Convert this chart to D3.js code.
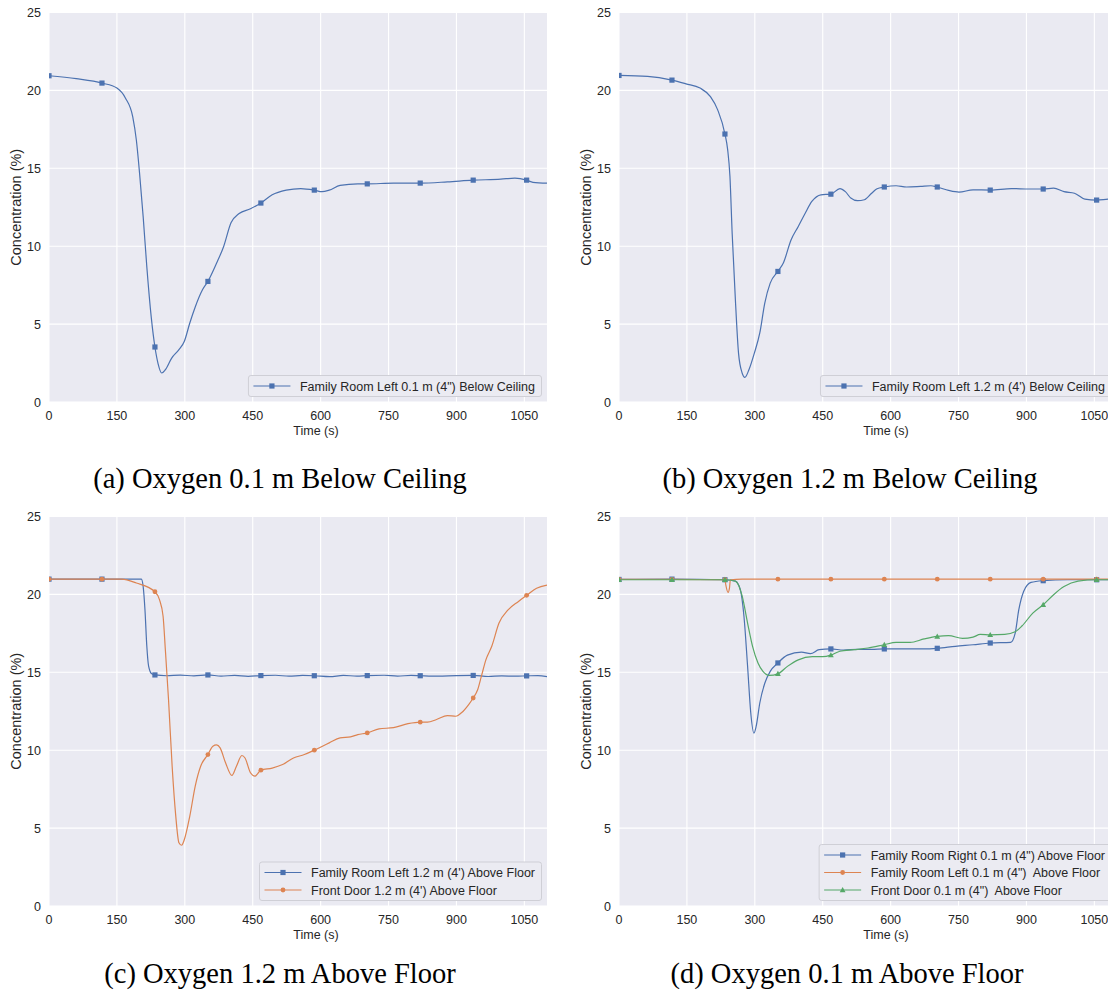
<!DOCTYPE html>
<html><head><meta charset="utf-8">
<script src="https://cdn.jsdelivr.net/npm/d3@7"></script>
<style>body{margin:0;background:#fff} svg{display:block} text{white-space:pre}</style>
</head><body><svg id="chart" width="1108" height="999"></svg>
<script>
// ---------- data ----------
const xTicks = [0,150,300,450,600,750,900,1050];
const yTicks = [0,5,10,15,20,25];
const markerTimes = [0,117,234,351,468,586,703,820,937,1055];

const captions = ["(a) Oxygen 0.1 m Below Ceiling","(b) Oxygen 1.2 m Below Ceiling","(c) Oxygen 1.2 m Above Floor","(d) Oxygen 0.1 m Above Floor"];

const labelsA = ["Family Room Left 0.1 m (4\") Below Ceiling"];
const labelsB = ["Family Room Left 1.2 m (4') Below Ceiling"];
const labelsC = ["Family Room Left 1.2 m (4') Above Floor","Front Door 1.2 m (4') Above Floor"];
const labelsD = ["Family Room Right 0.1 m (4\") Above Floor","Family Room Left 0.1 m (4\")  Above Floor","Front Door 0.1 m (4\")  Above Floor"];

const seriesA1 = [[0,20.94],[60,20.75],[117,20.47],[150,20.15],[169,19.5],[185,18.3],[193,16.8],[200,14.7],[208,11.9],[216,8.7],[226,5.4],[234,3.53],[241,2.45],[249,1.86],[257,2.07],[271,2.82],[287,3.36],[299,3.9],[311,5.07],[323,6.1],[339,7.2],[351,7.74],[370,8.9],[386,10.0],[402,11.5],[420,12.1],[445,12.4],[468,12.77],[493,13.3],[524,13.6],[556,13.7],[586,13.6],[603,13.5],[619,13.6],[643,13.9],[682,14.0],[703,14.0],[761,14.05],[820,14.05],[880,14.13],[937,14.24],[998,14.3],[1029,14.37],[1055,14.24],[1069,14.1],[1100,14.05]];

const seriesB1 = [[0,20.96],[63,20.9],[117,20.66],[148,20.42],[179,20.15],[202,19.6],[218,18.75],[234,17.2],[240,16.2],[245,14.5],[250,10.8],[257,6.6],[264,3.14],[272,1.86],[278,1.58],[287,2.07],[299,3.14],[311,4.43],[322,6.35],[334,7.63],[351,8.38],[363,8.92],[380,10.4],[396,11.27],[411,12.1],[426,12.87],[446,13.3],[468,13.34],[488,13.7],[500,13.5],[512,13.09],[527,12.92],[542,12.98],[558,13.4],[570,13.69],[586,13.8],[612,13.88],[635,13.8],[666,13.84],[689,13.88],[703,13.8],[728,13.58],[751,13.47],[782,13.62],[820,13.6],[867,13.7],[906,13.67],[937,13.67],[960,13.73],[983,13.5],[1006,13.4],[1029,13.02],[1055,12.96],[1082,13.02],[1100,13.03]];

const seriesC1 = [[0,20.98],[117,20.98],[204,20.98],[208,20.5],[212,19.0],[216,16.7],[220,15.4],[227,14.9],[234,14.83],[260,14.78],[290,14.82],[320,14.77],[351,14.83],[380,14.76],[410,14.8],[440,14.74],[468,14.79],[500,14.81],[530,14.75],[560,14.8],[586,14.78],[620,14.72],[650,14.8],[680,14.76],[703,14.79],[740,14.81],[770,14.76],[800,14.8],[820,14.78],[860,14.75],[900,14.79],[937,14.8],[970,14.73],[1000,14.77],[1030,14.75],[1055,14.77],[1080,14.79],[1100,14.72]];
const seriesC2 = [[0,20.98],[117,20.98],[161,20.98],[193,20.73],[234,20.17],[244,19.66],[252,18.6],[257,16.45],[264,13.25],[272,8.97],[280,5.77],[287,4.06],[293,3.9],[299,4.27],[311,5.77],[323,7.7],[335,8.97],[351,9.72],[362,10.26],[370,10.34],[378,10.15],[390,9.19],[404,8.38],[414,8.97],[426,9.66],[433,9.5],[445,8.55],[455,8.33],[461,8.5],[468,8.72],[493,8.85],[516,9.08],[540,9.5],[564,9.72],[586,10.0],[619,10.47],[643,10.79],[666,10.85],[682,11.0],[703,11.11],[729,11.37],[761,11.45],[793,11.7],[820,11.8],[836,11.8],[856,11.97],[880,12.22],[899,12.18],[911,12.4],[927,12.93],[937,13.35],[947,13.9],[955,14.74],[965,15.8],[978,16.67],[994,18.16],[1014,19.0],[1037,19.55],[1055,19.94],[1077,20.4],[1100,20.6]];

const seriesD1 = [[0,20.96],[117,20.98],[234,20.94],[257,20.85],[268,20.3],[276,18.6],[284,15.4],[291,12.4],[298,11.1],[303,11.54],[311,13.03],[322,14.3],[334,15.06],[351,15.6],[372,16.1],[403,16.3],[423,16.2],[442,16.45],[468,16.5],[496,16.43],[527,16.47],[558,16.47],[586,16.5],[628,16.5],[674,16.5],[703,16.54],[743,16.67],[782,16.77],[820,16.88],[865,16.92],[875,17.5],[883,19.0],[894,20.2],[910,20.77],[937,20.88],[991,20.94],[1055,20.94],[1100,20.94]];
const seriesD2 = [[0,20.96],[117,20.96],[234,20.94],[236,20.6],[241,20.13],[244,20.4],[246,20.94],[272,20.98],[351,20.98],[468,20.98],[586,20.98],[703,20.98],[820,20.98],[937,20.98],[1055,20.98],[1100,20.98]];
const seriesD3 = [[0,20.94],[117,20.94],[234,20.94],[257,20.85],[272,19.9],[284,18.16],[295,16.67],[307,15.6],[318,15.06],[332,14.8],[351,14.9],[372,15.38],[396,15.8],[427,16.0],[450,16.0],[468,16.1],[488,16.35],[519,16.45],[550,16.56],[586,16.77],[612,16.92],[643,16.92],[674,17.14],[703,17.3],[728,17.35],[759,17.18],[782,17.26],[798,17.43],[820,17.4],[852,17.43],[875,17.6],[890,17.97],[914,18.8],[937,19.34],[960,19.98],[983,20.5],[1014,20.85],[1055,20.94],[1100,20.94]];

// ---------- styles ----------
const colors = ["#4C72B0","#DD8452","#55A868"];
const shapes = ["square","circle","triangle"];

const panels = [
  {left:49,  top:12.5,  series:[seriesA1], labels:labelsA, cap:captions[0], capX:280, capY:488},
  {left:619, top:12.5,  series:[seriesB1], labels:labelsB, cap:captions[1], capX:850, capY:488},
  {left:49,  top:516.5, series:[seriesC1,seriesC2], labels:labelsC, cap:captions[2], capX:280, capY:983},
  {left:619, top:516.5, series:[seriesD1,seriesD2,seriesD3], labels:labelsD, cap:captions[3], capX:847, capY:983}
];
const PW = 498, PH = 389.5;

const svg = d3.select("#chart");
const FONT = "'Liberation Sans', Arial, sans-serif";

function interp(series, t){
  for (let i=1;i<series.length;i++){
    if (series[i][0] >= t){
      const [t0,v0]=series[i-1],[t1,v1]=series[i];
      return v0 + (v1-v0)*(t-t0)/(t1-t0);
    }
  }
  return series[series.length-1][1];
}

function drawMarker(g, shape, x, y, color){
  if (shape==="square") g.append("rect").attr("x",x-2.6).attr("y",y-2.6).attr("width",5.2).attr("height",5.2).attr("fill",color);
  else if (shape==="circle") g.append("circle").attr("cx",x).attr("cy",y).attr("r",2.4).attr("fill",color);
  else g.append("path").attr("d",`M${x},${y-3}L${x+2.9},${y+2.2}L${x-2.9},${y+2.2}Z`).attr("fill",color);
}

panels.forEach((p,pi)=>{
  const x = d3.scaleLinear().domain([0,1100]).range([0,PW]);
  const y = d3.scaleLinear().domain([0,25]).range([PH,0]);
  const g = svg.append("g").attr("transform",`translate(${p.left},${p.top})`);
  const clipId = "clip"+pi;
  g.append("clipPath").attr("id",clipId).append("rect").attr("width",PW).attr("height",PH);
  g.append("rect").attr("width",PW).attr("height",PH).attr("fill","#EAEAF2");
  // grid
  g.selectAll(".gx").data(xTicks).enter().append("line")
    .attr("x1",d=>x(d)).attr("x2",d=>x(d)).attr("y1",0).attr("y2",PH)
    .attr("stroke","#fff").attr("stroke-width",1.1);
  g.selectAll(".gy").data(yTicks).enter().append("line")
    .attr("x1",0).attr("x2",PW).attr("y1",d=>y(d)).attr("y2",d=>y(d))
    .attr("stroke","#fff").attr("stroke-width",1.1);
  // tick labels
  g.selectAll(".tx").data(xTicks).enter().append("text")
    .attr("x",d=>x(d)).attr("y",PH+18).attr("text-anchor","middle")
    .attr("font-family",FONT).attr("font-size",12.5).attr("fill","#262626").text(d=>d);
  g.selectAll(".ty").data(yTicks).enter().append("text")
    .attr("x",-8).attr("y",d=>y(d)+4.5).attr("text-anchor","end")
    .attr("font-family",FONT).attr("font-size",12.5).attr("fill","#262626").text(d=>d);
  g.append("text").attr("x",PW/2+18).attr("y",PH+33).attr("text-anchor","middle")
    .attr("font-family",FONT).attr("font-size",12.5).attr("fill","#262626").text("Time (s)");
  g.append("text").attr("transform",`translate(${-28},${PH/2}) rotate(-90)`).attr("text-anchor","middle")
    .attr("font-family",FONT).attr("font-size",14.5).attr("fill","#262626").text("Concentration (%)");
  // lines
  const plot = g.append("g").attr("clip-path",`url(#${clipId})`);
  const line = d3.line().x(d=>x(d[0])).y(d=>y(d[1])).curve(d3.curveMonotoneX);
  p.series.forEach((s,si)=>{
    plot.append("path").attr("d",line(s)).attr("fill","none").attr("stroke",colors[si]).attr("stroke-width",1.2);
    markerTimes.forEach(t=>{
      drawMarker(plot, shapes[si], x(t), y(interp(s,t)), colors[si]);
    });
  });
  // legend
  const lg = g.append("g");
  const texts = p.labels.map((lab,i)=>lg.append("text").attr("font-family",FONT).attr("font-size",12.5).attr("fill","#262626").text(lab));
  const tw = d3.max(texts, t=>t.node().getComputedTextLength());
  const boxW = tw + 58, boxH = 3.5 + 17.5*p.labels.length;
  const bx = PW - 5.5 - boxW, by = PH - 5.5 - boxH;
  lg.insert("rect","text").attr("x",bx).attr("y",by).attr("width",boxW).attr("height",boxH)
    .attr("rx",2.5).attr("fill","#EBEBF2").attr("stroke","#CFCFD6").attr("stroke-width",1);
  texts.forEach((t,i)=>{
    const cy = by + 10.5 + 17.5*i;
    t.attr("x",bx+51.5).attr("y",cy+4.5);
    lg.append("line").attr("x1",bx+5).attr("x2",bx+42).attr("y1",cy).attr("y2",cy)
      .attr("stroke",colors[i]).attr("stroke-width",1.2);
    drawMarker(lg, shapes[i], bx+23.5, cy, colors[i]);
  });
  // caption
  svg.append("text").attr("x",p.capX).attr("y",p.capY).attr("text-anchor","middle")
    .attr("font-family","'Liberation Serif','Times New Roman',serif").attr("font-size",28.5).attr("fill","#000").text(p.cap);
});
</script></body></html>
